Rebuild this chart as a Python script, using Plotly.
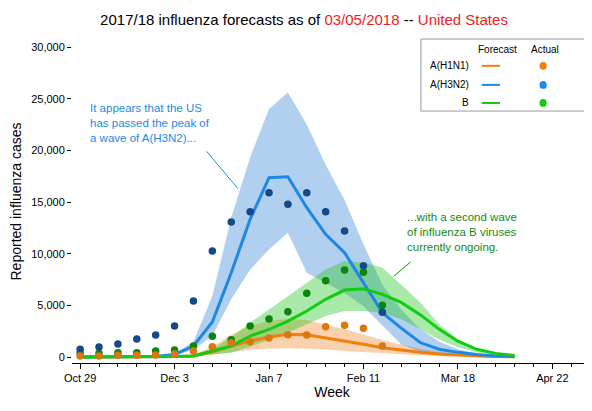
import plotly.graph_objects as go

weeks_obs = list(range(17))
weeks_fc = list(range(24))
tick_weeks = [0, 5, 10, 15, 20, 25]
tick_labels = ["Oct 29", "Dec 3", "Jan 7", "Feb 11", "Mar 18", "Apr 22"]

h3_obs = [742, 968, 1258, 1742, 2129, 3000, 5419, 10258, 13065, 14065, 15903, 14774, 15903, 14065, 12194, 8839, 4323]
b_obs = [355, 355, 419, 419, 581, 677, 1065, 2000, 1677, 3000, 3677, 4387, 6161, 7387, 8419, 8194, 5000]
h1_obs = [97, 97, 161, 161, 194, 290, 581, 1000, 1387, 1484, 1839, 2161, 2129, 2935, 3065, 2774, 1065]

h3_fc = [0, 0, 0, 0, 50, 250, 1065, 3390, 8160, 13320, 17350, 17450, 14450, 11870, 10100, 7200, 4290, 2800, 1400, 750, 450, 250, 100, 50]
h3_hi = [0, 0, 0, 0, 80, 300, 1500, 5900, 13500, 19300, 24000, 25600, 22500, 18600, 15200, 10900, 7000, 4600, 2700, 1500, 750, 350, 150, 60]
h3_lo = [0, 0, 0, 0, 20, 150, 700, 2030, 5580, 8480, 10400, 12030, 8160, 7200, 6200, 4900, 3000, 1200, 500, 250, 120, 60, 30, 10]

b_fc = [0, 0, 0, 0, 20, 50, 100, 580, 1065, 2030, 2680, 3480, 4450, 5580, 6480, 6610, 6060, 5280, 4100, 2700, 1530, 750, 350, 150]
b_hi = [0, 0, 0, 0, 40, 80, 200, 800, 1900, 3320, 4600, 5900, 7190, 8480, 9290, 9130, 8650, 7000, 5300, 3200, 1700, 750, 350, 150]
b_lo = [0, 0, 0, 0, 10, 20, 60, 250, 400, 1000, 1700, 2350, 3160, 3970, 4450, 4450, 4290, 3650, 2700, 1700, 950, 450, 200, 80]

h1_fc = [0, 0, 0, 0, 20, 50, 100, 480, 1065, 1550, 1935, 2190, 2160, 1870, 1550, 1230, 900, 650, 450, 300, 180, 100, 50, 20]
h1_hi = [0, 0, 0, 0, 40, 80, 250, 1000, 2190, 3000, 3480, 3700, 3580, 3160, 2680, 2190, 1650, 1200, 800, 500, 300, 150, 60, 30]
h1_lo = [0, 0, 0, 0, 10, 20, 50, 250, 500, 700, 800, 840, 800, 740, 580, 480, 355, 250, 150, 80, 40, 20, 10, 5]

series = [
    ("A(H1N1)", h1_fc, h1_hi, h1_lo, h1_obs, "#f07f0c", "rgba(240,140,50,0.4)", "#dd7511"),
    ("A(H3N2)", h3_fc, h3_hi, h3_lo, h3_obs, "#1e88e5", "rgba(60,135,215,0.4)", "#14498a"),
    ("B", b_fc, b_hi, b_lo, b_obs, "#11cc11", "rgba(40,200,40,0.4)", "#0b860b"),
]

fig = go.Figure()
for name, fc, hi, lo, obs, lc, fc_col, dc in series:
    fig.add_trace(go.Scatter(x=weeks_fc[4:], y=hi[4:], mode="lines", line=dict(width=0), showlegend=False, hoverinfo="skip"))
    fig.add_trace(go.Scatter(x=weeks_fc[4:], y=lo[4:], mode="lines", line=dict(width=0), fill="tonexty", fillcolor=fc_col, showlegend=False, hoverinfo="skip"))
for name, fc, hi, lo, obs, lc, fc_col, dc in series:
    fig.add_trace(go.Scatter(x=weeks_fc, y=fc, mode="lines", line=dict(color=lc, width=3), showlegend=False))
for name, fc, hi, lo, obs, lc, fc_col, dc in reversed(series):
    fig.add_trace(go.Scatter(x=weeks_obs, y=obs, mode="markers", marker=dict(color=dc, size=7.5), showlegend=False))

font = "Liberation Sans, Arial, sans-serif"
ann = []
shapes = []
shapes.append(dict(type="rect", xref="paper", yref="paper", x0=0.671, x1=0.996, y0=0.780, y1=1.003, line=dict(color="#999", width=1), fillcolor="white"))
ann.append(dict(xref="paper", yref="paper", x=0.819, y=0.972, text="Forecast", showarrow=False, font=dict(size=10, family=font, color="black"), xanchor="center", yanchor="middle"))
ann.append(dict(xref="paper", yref="paper", x=0.910, y=0.972, text="Actual", showarrow=False, font=dict(size=10, family=font, color="black"), xanchor="center", yanchor="middle"))
rows = [0.920, 0.861, 0.805]
for (name, fc, hi, lo, obs, lc, fc_col, dc), yy in zip(series, rows):
    ann.append(dict(xref="paper", yref="paper", x=0.767, y=yy, text=name, showarrow=False, font=dict(size=10, family=font, color="black"), xanchor="right", yanchor="middle"))
    shapes.append(dict(type="line", xref="paper", yref="paper", x0=0.788, x1=0.823, y0=yy, y1=yy, line=dict(color=lc, width=2)))
    shapes.append(dict(type="circle", xref="paper", yref="paper", x0=0.899, x1=0.913, y0=yy - 0.012, y1=yy + 0.012, line=dict(width=0), fillcolor=lc))

ann.append(dict(x=0.4, y=24900, xref="x", yref="y", text="It appears that the US<br>has passed the peak of<br>a wave of A(H3N2)...", showarrow=False, align="left", xanchor="left", yanchor="top", font=dict(size=11.5, family=font, color="#1e88e5")))
ann.append(dict(x=17.2, y=14300, xref="x", yref="y", text="...with a second wave<br>of influenza B viruses<br>currently ongoing.", showarrow=False, align="left", xanchor="left", yanchor="top", font=dict(size=11.5, family=font, color="#138a13")))
shapes.append(dict(type="line", xref="x", yref="y", x0=6.7, y0=19900, x1=8.35, y1=16300, line=dict(color="#1e88e5", width=1)))
shapes.append(dict(type="line", xref="x", yref="y", x0=17.5, y0=9200, x1=16.6, y1=7800, line=dict(color="#138a13", width=1)))

fig.update_layout(
    width=592, height=411,
    margin=dict(l=64, r=8, t=32, b=56),
    paper_bgcolor="white", plot_bgcolor="white",
    font=dict(family=font, size=11, color="black"),
    title=dict(text="2017/18 influenza forecasts as of <span style='color:#e8231d'>03/05/2018</span> -- <span style='color:#e8231d'>United States</span>",
               x=0.5, xanchor="center", y=0.985, yanchor="top", font=dict(size=15, family=font, color="black")),
    annotations=ann, shapes=shapes,
)
fig.update_xaxes(range=[-0.43, 27.1], tickvals=tick_weeks, ticktext=tick_labels, showgrid=False, zeroline=False,
                 showline=True, linecolor="black", ticks="outside", ticklen=5, tickcolor="black",
                 minor=dict(dtick=1, ticks="outside", ticklen=3, tickcolor="black"),
                 title=dict(text="Week", font=dict(size=14), standoff=2))
fig.update_yaxes(range=[-580, 30677], tickvals=[0, 5000, 10000, 15000, 20000, 25000, 30000], tickformat=",",
                 showgrid=False, zeroline=False, showline=False, ticks="outside", ticklen=4, tickcolor="black",
                 title=dict(text="Reported influenza cases", font=dict(size=14), standoff=6))
fig.write_html("out.html")
